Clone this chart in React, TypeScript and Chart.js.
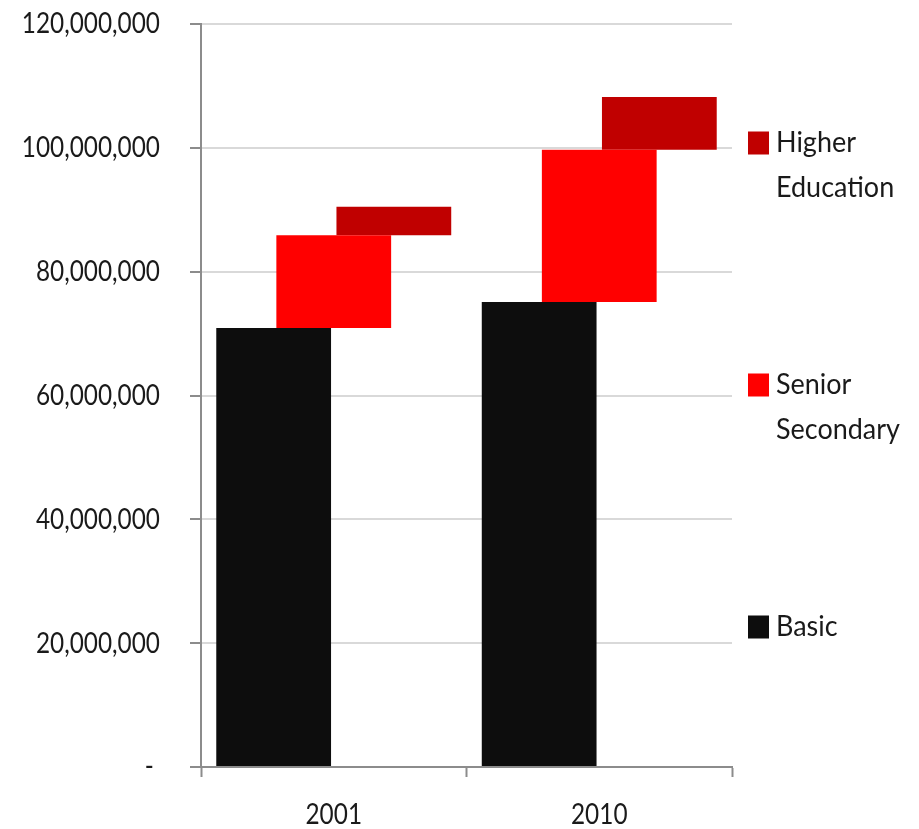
import React, { useEffect, useRef } from "react";
import { Chart, registerables } from "chart.js";

Chart.register(...registerables);

// ---- data ----
const categories = ["2001", "2010"];
const basicValues = [70900000, 75100000];
const seniorSecondaryValues = [15000000, 24600000];
const higherEducationValues = [4600000, 8500000];
const seriesNames = ["Basic", "Senior Secondary", "Higher Education"];
const legendLines = [["Basic"], ["Senior", "Secondary"], ["Higher", "Education"]];
const seriesColors = ["#0d0d0d", "#ff0000", "#c00000"];
const yTickMax = 120000000;
const yTickStep = 20000000;

const FONT = "Lato, 'Open Sans', sans-serif";
const FONT_SIZE = 29;
const SQUEEZE = 0.84; // horizontal text compression to mimic a narrow font
const LEGEND_SQUEEZE = 0.93;
const TEXT = "#1a1a1a";
const AXIS = "#8c8c8c";

function floating(starts: number[], values: number[]) {
  return values.map((v, i) => [starts[i], starts[i] + v]);
}

function condenseLabels(scale: any, sx: number) {
  if (!scale || scale.__condensed) return;
  scale.__condensed = true;
  scale.drawLabels = function (chartArea: any) {
    const ctx = this.ctx;
    const items = this.getLabelItems(chartArea);
    for (const item of items) {
      const o = item.options;
      ctx.save();
      ctx.translate(o.translation[0], o.translation[1]);
      ctx.rotate(o.rotation || 0);
      ctx.scale(sx, 1);
      ctx.font = item.font.string;
      ctx.fillStyle = o.color;
      ctx.textAlign = o.textAlign;
      ctx.textBaseline = o.textBaseline;
      const lines = Array.isArray(item.label) ? item.label : [item.label];
      lines.forEach((l: string, i: number) => ctx.fillText(l, 0, item.textOffset + i * item.font.lineHeight));
      ctx.restore();
    }
  };
}

const condensePlugin = {
  id: "condense",
  beforeDraw(chart: any) {
    condenseLabels(chart.scales.x, SQUEEZE);
    condenseLabels(chart.scales.y, SQUEEZE);
  },
};

const legendPlugin = {
  id: "sideLegend",
  afterDraw(chart: any) {
    const ctx = chart.ctx;
    const ca = chart.chartArea;
    const boxX = ca.right + 16;
    const textX = ca.right + 44;
    const spacing = 242;
    const firstCenter = ca.top + 119;
    ctx.save();
    ctx.font = `${FONT_SIZE}px ${FONT}`;
    ctx.textBaseline = "middle";
    ctx.textAlign = "left";
    const order = [2, 1, 0];
    order.forEach((si, k) => {
      const cy = firstCenter + k * spacing;
      ctx.fillStyle = seriesColors[si];
      ctx.fillRect(boxX, cy - 11.5, 21, 23);
      ctx.fillStyle = TEXT;
      legendLines[si].forEach((line, li) => {
        ctx.save();
        ctx.translate(textX, cy + li * 45);
        ctx.scale(LEGEND_SQUEEZE, 1);
        ctx.fillText(line, 0, 0);
        ctx.restore();
      });
    });
    ctx.restore();
  },
};

export default function App() {
  const ref = useRef<HTMLCanvasElement | null>(null);

  useEffect(() => {
    if (!ref.current) return;
    const zeros = basicValues.map(() => 0);
    const seniorStart = basicValues.slice();
    const higherStart = basicValues.map((b, i) => b + seniorSecondaryValues[i]);

    const chart = new Chart(ref.current, {
      type: "bar",
      data: {
        labels: categories,
        datasets: [
          { label: seriesNames[0], data: floating(zeros, basicValues) as any, backgroundColor: seriesColors[0] },
          { label: seriesNames[1], data: floating(seniorStart, seniorSecondaryValues) as any, backgroundColor: seriesColors[1] },
          { label: seriesNames[2], data: floating(higherStart, higherEducationValues) as any, backgroundColor: seriesColors[2] },
        ],
      },
      options: {
        animation: false,
        responsive: true,
        maintainAspectRatio: false,
        layout: { padding: { left: 0, right: 187, top: 24, bottom: 0 } },
        datasets: {
          bar: { categoryPercentage: 0.679, barPercentage: 1.91 },
        },
        plugins: {
          legend: { display: false },
          tooltip: { enabled: false },
        },
        scales: {
          x: {
            offset: true,
            grid: {
              display: true,
              drawOnChartArea: false,
              tickLength: 10,
              tickColor: AXIS,
              tickWidth: 2,
              offset: true,
            },
            border: { color: AXIS, width: 2 },
            ticks: {
              font: { family: FONT, size: FONT_SIZE },
              color: TEXT,
              padding: 20,
            },
            afterFit: (s: any) => {
              s.height = 62;
              s.paddingLeft = 0;
              s.paddingRight = 0;
            },
          },
          y: {
            min: 0,
            max: yTickMax,
            ticks: {
              stepSize: yTickStep,
              font: { family: FONT, size: FONT_SIZE },
              color: TEXT,
              padding: 30,
              callback: (v: any) => (Number(v) === 0 ? "- " : Number(v).toLocaleString("en-US")),
            },
            grid: {
              color: "#d9d9d9",
              lineWidth: 2,
              tickLength: 11,
              tickColor: AXIS,
              tickWidth: 2,
            },
            border: { color: AXIS, width: 2 },
            afterFit: (s: any) => {
              s.width = 201;
              s.paddingTop = 0;
              s.paddingBottom = 0;
            },
          },
        },
      },
      plugins: [condensePlugin, legendPlugin],
    });
    return () => chart.destroy();
  }, []);

  return (
    <div style={{ position: "fixed", left: 0, top: 0, width: 919, height: 829, background: "#fff" }}>
      <canvas ref={ref} />
    </div>
  );
}
